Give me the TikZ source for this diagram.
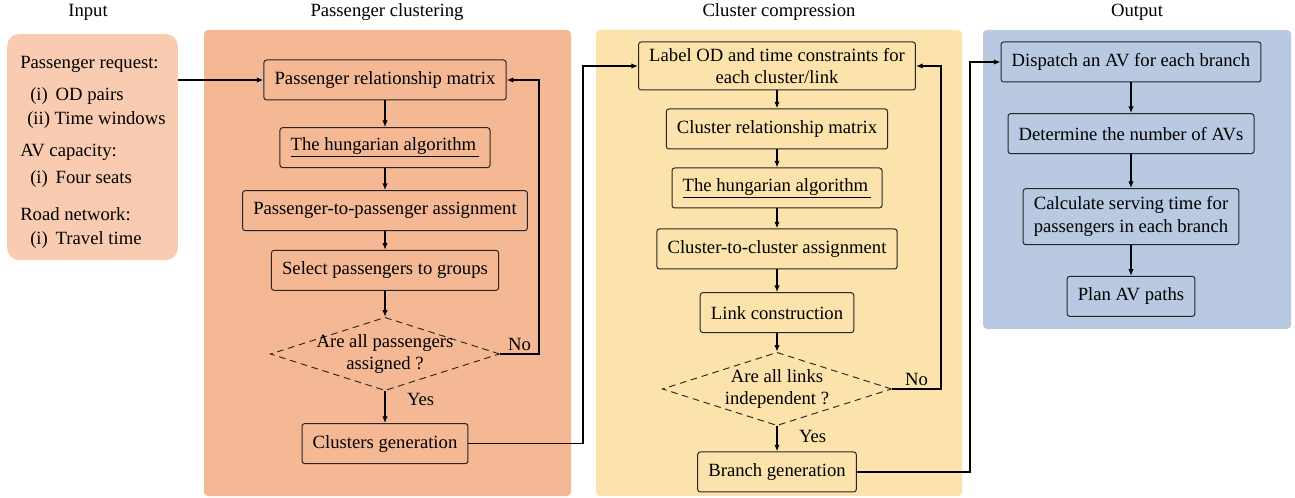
\documentclass[tikz,border=0pt]{standalone}
\usepackage{fontspec}
\setmainfont{Liberation Serif}
\usetikzlibrary{positioning,arrows.meta,shapes.geometric}
\definecolor{inputbg}{RGB}{249,203,177}
\definecolor{clusbg}{RGB}{245,184,149}
\definecolor{compbg}{RGB}{252,226,171}
\definecolor{outbg}{RGB}{184,201,225}

\begin{document}
\begin{tikzpicture}[
  x=0.75pt, y=-0.75pt,
  font=\fontsize{14}{17}\selectfont, >={Latex[length=5pt,width=4pt]},
  proc/.style={rectangle, draw=black!85, rounded corners=2pt, line width=0.75pt,
    minimum height=30pt, inner xsep=8pt, inner ysep=2pt, align=center},
  dec/.style={diamond, draw=black!85, dashed, dash pattern=on 5pt off 3.5pt, line width=0.7pt,
    minimum width=172pt, minimum height=55pt, inner sep=0pt},
  flow/.style={->, line width=1pt},
  lbl/.style={inner sep=2pt}
]
\useasboundingbox (0,0) rectangle (1295,498);

% panels
\fill[clusbg, rounded corners=3pt] (204,30) rectangle (571,496);
\fill[compbg, rounded corners=3pt] (596,30) rectangle (962,496);
\fill[outbg, rounded corners=3pt] (983,30) rectangle (1291,329);
\node[fill=inputbg, rounded corners=9pt, minimum width=128pt, minimum height=169.5pt] (input) at (92.5,147) {};

% titles
\node (t1) at (88,12) {Input};
\node (t2) at (387,12) {Passenger clustering};
\node (t3) at (779,12) {Cluster compression};
\node (t4) at (1137,12) {Output};

% input texts
\foreach \x/\y/\t in {20/64/{Passenger request:}, 30/96/{(i)\, OD pairs}, 27/120/{(ii) Time windows},
  20/152/{AV capacity:}, 30/179/{(i)\, Four seats}, 20/214/{Road network:}, 30/240/{(i)\, Travel time}}
  \node[anchor=west, inner sep=0pt] at (\x,\y) {\t};

% passenger clustering
\node[proc] (p1) at (385,80) {Passenger relationship matrix};
\node[proc, below=20pt of p1] (p2) {\underline{The hungarian algorithm\,}};
\node[proc, below=16.5pt of p2] (p3) {Passenger-to-passenger assignment};
\node[proc, below=14pt of p3] (p4) {Select passengers to groups};
\node[dec, below=19.5pt of p4, label={[align=center]center:Are all passengers\\assigned ?}] (q1) {};
\node[proc, below=24pt of q1] (p5) {Clusters generation};

% cluster compression
\node[proc, minimum height=36pt] (c1) at (777,66) {Label OD and time constraints for\\each cluster/link};
\node[proc, below=13.5pt of c1] (c2) {Cluster relationship matrix};
\node[proc, below=13.5pt of c2] (c3) {\underline{The hungarian algorithm\,}};
\node[proc, below=15pt of c3] (c4) {Cluster-to-cluster assignment};
\node[proc, below=17pt of c4] (c5) {Link construction};
\node[dec, below=14pt of c5, label={[align=center]center:Are all links\\independent ?}] (q2) {};
\node[proc, below=19pt of q2] (c6) {Branch generation};

% output
\node[proc] (o1) at (1131,62) {Dispatch an AV for each branch};
\node[proc, below=23pt of o1] (o2) {Determine the number of AVs};
\node[proc, minimum height=42pt, below=25.5pt of o2] (o3) {Calculate serving time for\\passengers in each branch};
\node[proc, below=23pt of o3] (o4) {Plan AV paths};

\coordinate (r1) at (539,0);
\coordinate (r2) at (941,0);
\coordinate (m1) at (583,0);
\coordinate (m2) at (970,0);

\draw[flow, line width=1.5pt] (p1.west -| input.east) -- (p1.west);
\draw[flow] (p1) -- (p2);
\draw[flow] (p2) -- (p3);
\draw[flow] (p3) -- (p4);
\draw[flow] (p4) -- (q1);
\draw[flow] (q1) -- node[lbl, right=14pt, pos=0.25]{Yes} (p5);
\draw[flow] (q1.east) -- node[lbl, above]{No} (q1.east -| r1) |- (p1.east);
\draw[flow] (p5.east) -- (p5.east -| m1) |- (c1.west);

\draw[flow] (c1) -- (c2);
\draw[flow] (c2) -- (c3);
\draw[flow] (c3) -- (c4);
\draw[flow] (c4) -- (c5);
\draw[flow] (c5) -- (q2);
\draw[flow] (q2) -- node[lbl, right=14pt, pos=0.4]{Yes} (c6);
\draw[flow] (q2.east) -- node[lbl, above]{No} (q2.east -| r2) |- (c1.east);
\draw[flow] (c6.east) -- (c6.east -| m2) |- (o1.west);

\draw[flow] (o1) -- (o2);
\draw[flow] (o2) -- (o3);
\draw[flow] (o3) -- (o4);
\end{tikzpicture}
\end{document}
